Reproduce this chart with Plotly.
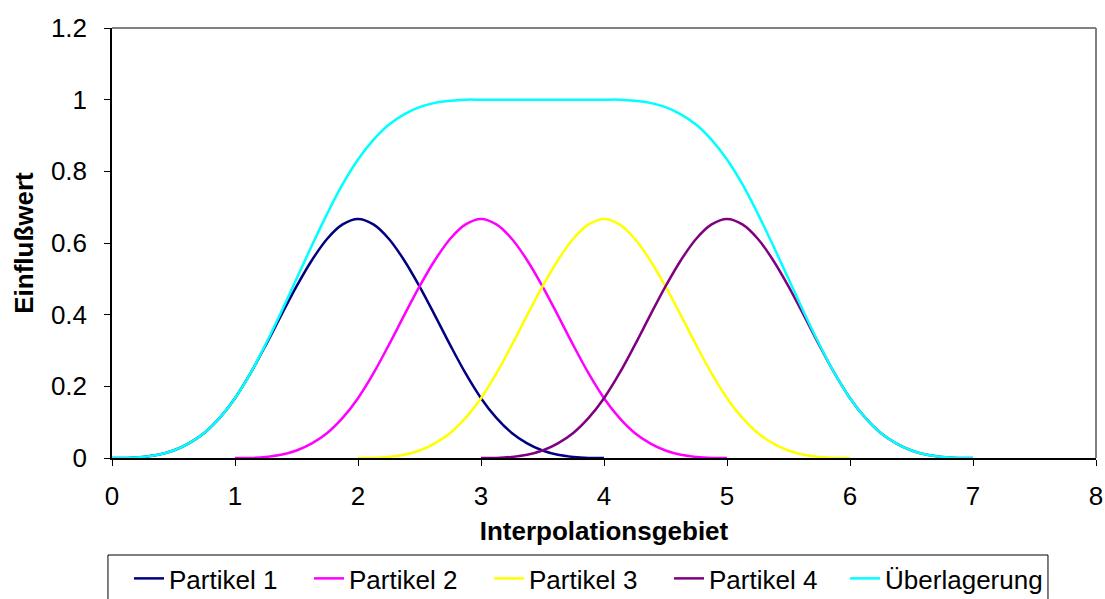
import plotly.graph_objects as go

# Sample positions along the interpolation domain (step 0.125)
x_grid = [0, 0.125, 0.25, 0.375, 0.5, 0.625, 0.75, 0.875,
          1, 1.125, 1.25, 1.375, 1.5, 1.625, 1.75, 1.875,
          2, 2.125, 2.25, 2.375, 2.5, 2.625, 2.75, 2.875,
          3, 3.125, 3.25, 3.375, 3.5, 3.625, 3.75, 3.875,
          4, 4.125, 4.25, 4.375, 4.5, 4.625, 4.75, 4.875,
          5, 5.125, 5.25, 5.375, 5.5, 5.625, 5.75, 5.875,
          6, 6.125, 6.25, 6.375, 6.5, 6.625, 6.75, 6.875, 7]

# Each particle covers four units of the domain
x_p1 = x_grid[0:33]
x_p2 = x_grid[8:41]
x_p3 = x_grid[16:49]
x_p4 = x_grid[24:57]

# Influence values of the particles
y_p1 = [0, 0.0003, 0.003, 0.009, 0.021, 0.041, 0.070, 0.112,
        0.167, 0.236, 0.315, 0.398, 0.479, 0.552, 0.612, 0.652,
        0.667, 0.652, 0.612, 0.552, 0.479, 0.398, 0.315, 0.236,
        0.167, 0.112, 0.070, 0.041, 0.021, 0.009, 0.003, 0.0003, 0]
y_p2 = list(y_p1)
y_p3 = list(y_p1)
y_p4 = list(y_p1)

# Superposition of all four particles
y_sum = [0, 0.0003, 0.003, 0.009, 0.021, 0.041, 0.070, 0.112,
         0.167, 0.236, 0.318, 0.407, 0.500, 0.593, 0.682, 0.764,
         0.833, 0.888, 0.930, 0.959, 0.979, 0.991, 0.997, 1.000,
         1.000, 1.000, 1.000, 1.000, 1.000, 1.000, 1.000, 1.000,
         1.000, 1.000, 0.997, 0.991, 0.979, 0.959, 0.930, 0.888,
         0.833, 0.764, 0.682, 0.593, 0.500, 0.407, 0.318, 0.236,
         0.167, 0.112, 0.070, 0.041, 0.021, 0.009, 0.003, 0.0003, 0]

series = [
    ("Partikel 1", x_p1, y_p1, "#000080", "legend"),
    ("Partikel 2", x_p2, y_p2, "#FF00FF", "legend"),
    ("Partikel 3", x_p3, y_p3, "#FFFF00", "legend"),
    ("Partikel 4", x_p4, y_p4, "#800080", "legend"),
    ("Überlagerung", x_grid, y_sum, "#00FFFF", "legend2"),
]

fig = go.Figure()
for name, xs, ys, color, leg in series:
    fig.add_trace(go.Scatter(
        x=xs, y=ys, name=name, mode="lines", legend=leg,
        line=dict(color=color, width=2.5, shape="spline", smoothing=1.0),
    ))

font = "Liberation Sans, Arial, sans-serif"

legend_common = dict(
    orientation="h", xanchor="left",
    yref="container", y=0.0735, yanchor="top",
    borderwidth=0, bgcolor="rgba(0,0,0,0)",
    font=dict(family=font, size=26), tracegroupgap=0,
)

fig.update_layout(
    width=1105, height=599,
    margin=dict(l=112, r=9, t=28, b=141, autoexpand=False),
    paper_bgcolor="white", plot_bgcolor="white",
    font=dict(family=font, size=26, color="black"),
    showlegend=True,
    legend=dict(x=0.0173, entrywidth=135, entrywidthmode="pixels", **legend_common),
    legend2=dict(x=0.745, **legend_common),
    xaxis=dict(
        range=[0, 8], dtick=1, tick0=0, showgrid=False, zeroline=False,
        showline=True, linecolor="black", linewidth=1.5,
        ticks="outside", ticklen=6, tickcolor="black", tickwidth=1,
        ticklabelstandoff=8, tickfont=dict(size=26), automargin=False,
        title=dict(text="<b>Interpolationsgebiet</b>", standoff=12,
                   font=dict(family=font, size=26)),
    ),
    yaxis=dict(
        range=[0, 1.2], dtick=0.2, tick0=0, showgrid=False, zeroline=False,
        showline=True, linecolor="black", linewidth=1.5,
        ticks="outside", ticklen=6, tickcolor="black", tickwidth=1,
        ticklabelstandoff=12, tickfont=dict(size=26), automargin=False,
        title=dict(text="<b>Einflußwert</b>", standoff=10,
                   font=dict(family=font, size=26)),
    ),
    shapes=[
        # grey frame on the top and right of the plot area
        dict(type="line", xref="paper", yref="paper", x0=0, x1=1, y0=1, y1=1,
             line=dict(color="#808080", width=2)),
        dict(type="line", xref="paper", yref="paper", x0=1, x1=1, y0=0, y1=1,
             line=dict(color="#808080", width=2)),
        # legend box
        dict(type="rect", xref="paper", yref="paper",
             x0=-0.0041, x1=0.9512, y0=-0.2256, y1=-0.36,
             line=dict(color="black", width=1), fillcolor="rgba(0,0,0,0)"),
    ],
)

fig.write_html("out.html")
